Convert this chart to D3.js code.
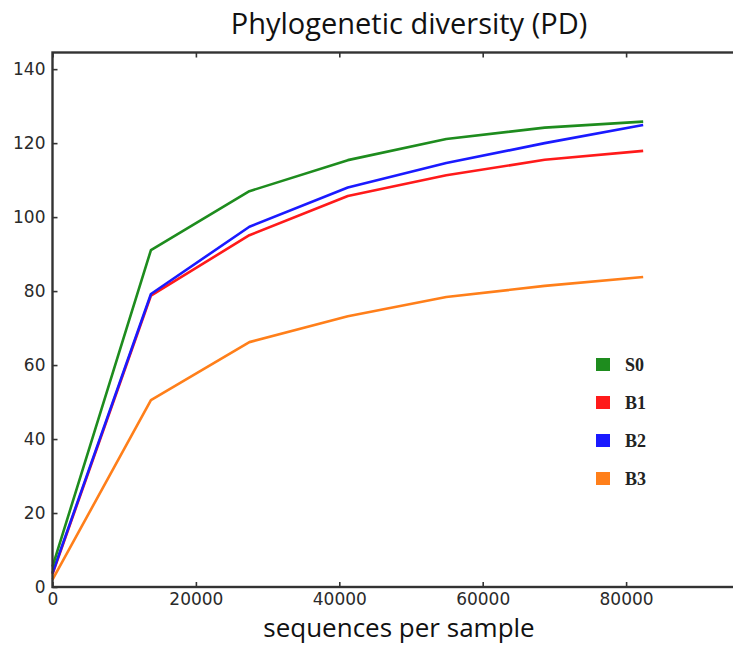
<!DOCTYPE html>
<html><head><meta charset="utf-8">
<script src="https://cdn.jsdelivr.net/npm/d3@7"></script>
<style>body{margin:0;background:#fff;} svg{display:block;}</style>
</head><body>
<svg id="chart" width="733" height="645"></svg>
<script>
const depths = [0, 13730, 27460, 41190, 54920, 68650, 82380];
const seriesNames = ["S0", "B1", "B2", "B3"];
const S0 = [5.5, 91.1, 107.0, 115.4, 121.1, 124.2, 125.8];
const B1 = [3.5, 78.8, 95.1, 105.7, 111.3, 115.5, 117.9];
const B2 = [3.8, 79.2, 97.4, 108.0, 114.6, 120.0, 124.9];
const B3 = [2.0, 50.5, 66.2, 73.2, 78.4, 81.4, 83.8];
const xTicks = [0, 20000, 40000, 60000, 80000];
const yTicks = [0, 20, 40, 60, 80, 100, 120, 140];
const colors = ["#1e8c1e", "#ff1a1a", "#1a1aff", "#ff7f1a"];
const seriesValues = [S0, B1, B2, B3];

const svg = d3.select("#chart");
const mLeft = 52.5, mTop = 52.5, mBottom = 587;
const x = d3.scaleLinear().domain([0, 100000]).range([mLeft, mLeft + 717]);
const y = d3.scaleLinear().domain([0, 144.5]).range([mBottom, mTop]);

const order = [3, 1, 2, 0];
const line = d3.line().x((d, i) => x(depths[i])).y(d => y(d));
order.forEach(k => {
  svg.append("path").datum(seriesValues[k])
    .attr("fill", "none").attr("stroke", colors[k])
    .attr("stroke-width", 2.6).attr("stroke-linejoin", "round")
    .attr("d", line);
});

const frame = "#333";
svg.append("rect").attr("x", mLeft).attr("y", mTop)
  .attr("width", x(100000) - mLeft).attr("height", mBottom - mTop)
  .attr("fill", "none").attr("stroke", frame).attr("stroke-width", 2.4);

const xAxis = d3.axisBottom(x).tickValues(xTicks).tickSize(-5).tickPadding(6).tickFormat(d3.format("d"));
const gx = svg.append("g").attr("transform", `translate(0,${mBottom})`).call(xAxis);
const yAxis = d3.axisLeft(y).tickValues(yTicks).tickSize(-5).tickPadding(7);
const gy = svg.append("g").attr("transform", `translate(${mLeft},0)`).call(yAxis);
const xTop = d3.axisTop(x).tickValues(xTicks).tickSize(-5).tickFormat("");
const gxt = svg.append("g").attr("transform", `translate(0,${mTop})`).call(xTop);
[gx, gy, gxt].forEach(g => {
  g.select(".domain").remove();
  g.selectAll(".tick line").attr("stroke", frame).attr("stroke-width", 1.6);
  g.selectAll("text").attr("fill", "#2a2a2a").style("font-family", "DejaVu Sans, sans-serif").style("font-size", "17px");
});

svg.append("text").attr("x", 409).attr("y", 34).attr("text-anchor", "middle")
  .style("font-family", "Open Sans, sans-serif").style("font-size", "29px").attr("fill", "#111")
  .text("Phylogenetic diversity (PD)");
svg.append("text").attr("x", 399).attr("y", 637).attr("text-anchor", "middle")
  .style("font-family", "Open Sans, sans-serif").style("font-size", "26px").attr("fill", "#111")
  .text("sequences per sample");

const lg = svg.append("g");
seriesNames.forEach((name, i) => {
  const cy = 364.5 + i * 38;
  lg.append("rect").attr("x", 596).attr("y", cy - 6.5).attr("width", 14).attr("height", 13).attr("fill", colors[i]);
  lg.append("text").attr("x", 625).attr("y", cy + 6)
    .style("font-family", "Liberation Serif, serif").style("font-weight", "bold").style("font-size", "18px")
    .attr("fill", "#222").text(name);
});
</script>
</body></html>
